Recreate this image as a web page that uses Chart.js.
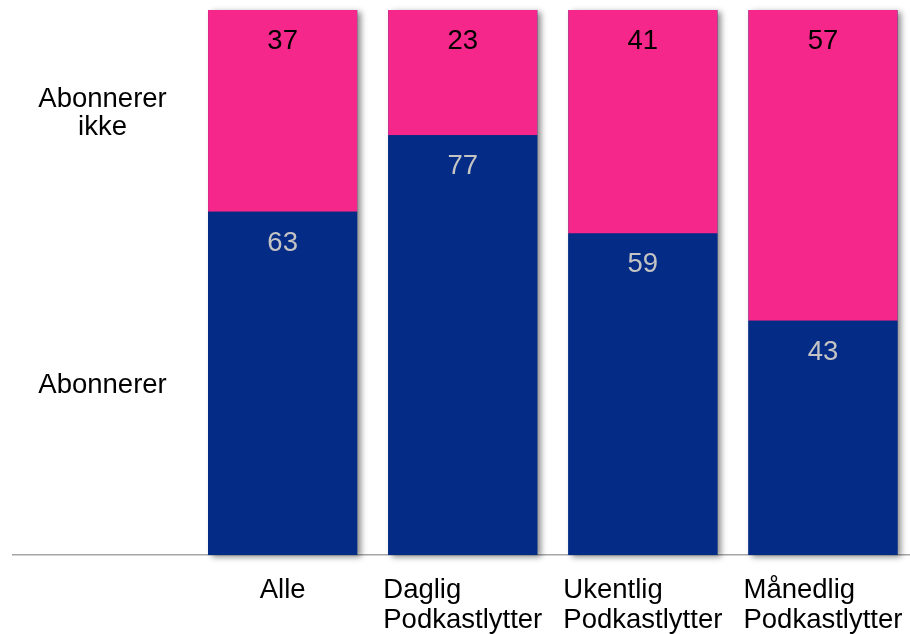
<!DOCTYPE html>
<html>
<head>
<meta charset="utf-8">
<script src="https://cdn.jsdelivr.net/npm/chart.js@4"></script>
<style>
  html, body { margin: 0; padding: 0; background: #fff; overflow: hidden; }
  #wrap { position: relative; width: 913px; height: 634px; }
</style>
</head>
<body>
<div id="wrap"><canvas id="chart"></canvas></div>
<script>
// First column is left empty: it carries the series names.
const categories = ['', 'Alle', ['Daglig', 'Podkastlytter'], ['Ukentlig', 'Podkastlytter'], ['Månedlig', 'Podkastlytter']];
const abonnerer = [null, 63, 77, 59, 43];
const abonnererIkke = [null, 37, 23, 41, 57];
const seriesNames = [['Abonnerer'], ['Abonnerer', 'ikke']];

const FONT = '27.5px "Liberation Sans", Arial, sans-serif';
const CAP = 19.7;
const BLUE = '#042B85';
const PINK = '#F6278A';

// Soft drop shadow behind each full stacked column
const shadowPlugin = {
  id: 'columnShadow',
  beforeDatasetsDraw(chart) {
    const ctx = chart.ctx;
    const low = chart.getDatasetMeta(0).data;
    const high = chart.getDatasetMeta(1).data;
    ctx.save();
    ctx.shadowColor = 'rgba(0,0,0,0.45)';
    ctx.shadowBlur = 6;
    ctx.shadowOffsetX = 4;
    ctx.shadowOffsetY = 2;
    ctx.fillStyle = BLUE;
    low.forEach((bar, i) => {
      if (abonnerer[i] == null) return;
      const top = high[i].y;
      ctx.fillRect(bar.x - bar.width / 2, top, bar.width, bar.base - top);
    });
    ctx.restore();
  }
};

// Values at the top of each segment, series names beside the first column, category labels
const textPlugin = {
  id: 'texts',
  afterDatasetsDraw(chart) {
    const ctx = chart.ctx;
    ctx.save();
    ctx.font = FONT;
    ctx.textBaseline = 'alphabetic';
    const colors = ['#C4C4C4', '#000000'];
    [0, 1].forEach(d => {
      const values = d === 0 ? abonnerer : abonnererIkke;
      chart.getDatasetMeta(d).data.forEach((bar, i) => {
        if (values[i] == null) return;
        const top = Math.min(bar.y, bar.base);
        ctx.fillStyle = colors[d];
        ctx.textAlign = 'center';
        ctx.fillText(String(values[i]), bar.x, top + 39);
      });
    });

    // series names, centred on the segments of the first data column
    const xs = chart.scales.x;
    const cx = xs.getPixelForValue(0);
    ctx.fillStyle = '#000';
    ctx.textAlign = 'center';
    [0, 1].forEach(d => {
      const bar = chart.getDatasetMeta(d).data[1];
      const mid = (bar.y + bar.base) / 2;
      const lines = seriesNames[d];
      const lh = 28;
      lines.forEach((t, k) => {
        ctx.fillText(t, cx, mid + CAP / 2 + (k - (lines.length - 1) / 2) * lh);
      });
    });

    // category labels: lines left-aligned, block centred under the column
    const base = chart.chartArea.bottom;
    categories.forEach((c, i) => {
      const lines = Array.isArray(c) ? c : [c];
      if (!lines[0]) return;
      const x = xs.getPixelForValue(i);
      const w = Math.max(...lines.map(t => ctx.measureText(t).width));
      ctx.textAlign = 'left';
      lines.forEach((t, k) => {
        ctx.fillText(t, x - w / 2, base + 43 + k * 30);
      });
    });
    ctx.restore();
  }
};

new Chart(document.getElementById('chart'), {
  type: 'bar',
  data: {
    labels: categories,
    datasets: [
      { label: 'Abonnerer', data: abonnerer, backgroundColor: BLUE, borderWidth: 0 },
      { label: 'Abonnerer ikke', data: abonnererIkke, backgroundColor: PINK, borderWidth: 0 }
    ]
  },
  options: {
    responsive: true,
    maintainAspectRatio: false,
    animation: false,
    events: [],
    layout: { padding: { left: 12.5, right: 0, top: 10, bottom: 71 } },
    datasets: { bar: { barPercentage: 1, categoryPercentage: 149 / 180 } },
    plugins: { legend: { display: false }, tooltip: { enabled: false } },
    scales: {
      x: {
        stacked: true,
        grid: { display: false },
        ticks: { display: false },
        border: { display: true, color: '#A6A6A6', width: 1.5 }
      },
      y: {
        stacked: true,
        display: false,
        min: 0,
        max: 100
      }
    }
  },
  plugins: [shadowPlugin, textPlugin]
});
</script>
</body>
</html>
